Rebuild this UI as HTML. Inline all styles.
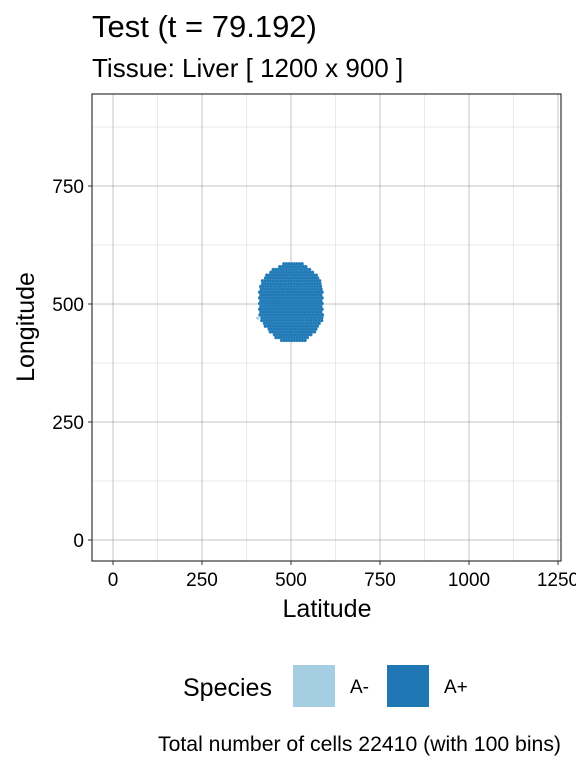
<!DOCTYPE html>
<html><head><meta charset="utf-8"><style>
body{margin:0;background:#fff;font-family:"Liberation Sans",sans-serif}
text{font-family:"Liberation Sans",sans-serif}
</style></head><body>
<svg id="c" width="576" height="768" xmlns="http://www.w3.org/2000/svg">
<text x="92" y="37" font-size="31">Test (t = 79.192)</text>
<text x="92" y="77" font-size="26">Tissue: Liver [ 1200 x 900 ]</text>
<g id="grid"></g>
<g id="pts"></g>
<rect x="92" y="94" width="469" height="467" fill="none" stroke="#222" stroke-width="1.1"/>
<g id="axes"></g>
<text x="327" y="617" font-size="25" text-anchor="middle">Latitude</text>
<text transform="translate(34,327) rotate(-90)" font-size="25" text-anchor="middle">Longitude</text>
<text x="183" y="696" font-size="25">Species</text>
<rect x="293" y="665" width="42" height="42" fill="#a6cee3"/>
<text x="350" y="693" font-size="19">A-</text>
<rect x="387" y="665" width="42" height="42" fill="#1f78b4"/>
<text x="444" y="693" font-size="19">A+</text>
<text x="561" y="751" font-size="21" text-anchor="end" textLength="403" lengthAdjust="spacingAndGlyphs">Total number of cells 22410 (with 100 bins)</text>
</svg>
<script>
const xTicks=[0,250,500,750,1000,1250];
const yTicks=[0,250,500,750];
const rowLon=[585,579,573,567,561,555,549,543,537,531,525,519,513,507,501,495,489,483,477,471,465,459,453,447,441,435,429,423];
const rowMin=[480,465,450,440,432,425,420,417,415,413,412,412,412,412,412,412,412,412,413,415,418,422,428,435,442,450,458,470];
const rowMax=[532,545,557,565,572,578,582,585,587,588,589,590,590,590,590,590,590,589,589,588,588,585,580,575,568,560,552,540];
const minusLat=[407];
const minusLon=[470];
const X=v=>113+v*0.356, Y=v=>540-v*0.472;
const ns="http://www.w3.org/2000/svg";
function mk(t,a,p){const e=document.createElementNS(ns,t);for(const k in a)e.setAttribute(k,a[k]);p.appendChild(e);return e;}
const g=document.getElementById('grid'),ax=document.getElementById('axes'),pts=document.getElementById('pts');
for(let i=0;i<xTicks.length;i++){
  const v=xTicks[i];
  const l=mk('line',{x1:X(v),x2:X(v),y1:94,y2:561,stroke:'#888','stroke-width':0.5},g);
  
  if(i>0){const m=mk('line',{x1:X(v-125),x2:X(v-125),y1:94,y2:561,stroke:'#ccc','stroke-width':0.4},g);
  }
  mk('line',{x1:X(v),x2:X(v),y1:561,y2:565,stroke:'#333'},ax);
  const t=mk('text',{x:X(v),y:586,'font-size':19,'text-anchor':'middle'},ax);t.textContent=v;
  
}
for(let i=0;i<yTicks.length;i++){
  const v=yTicks[i];
  const l=mk('line',{y1:Y(v),y2:Y(v),x1:92,x2:561,stroke:'#888','stroke-width':0.5},g);
  
  const m=mk('line',{y1:Y(v+125),y2:Y(v+125),x1:92,x2:561,stroke:'#ccc','stroke-width':0.4},g);
  
  mk('line',{y1:Y(v),y2:Y(v),x1:88,x2:92,stroke:'#333'},ax);
  const t=mk('text',{x:84,y:Y(v)+7,'font-size':19,'text-anchor':'end'},ax);t.textContent=v;
  
}
for(let r=0;r<rowLon.length;r++){
  const off=(r%2)*3.6;
  for(let x=rowMin[r]+off;x<=rowMax[r];x+=7.3){
    const c=mk('circle',{cx:X(x),cy:Y(rowLon[r]),r:1.6,fill:'#1f78b4',stroke:'#3a8cc4','stroke-width':0.4},pts);
    
  }
}
for(let i=0;i<minusLat.length;i++){
  const c=mk('circle',{cx:X(minusLat[i]),cy:Y(minusLon[i]),r:1.6,fill:'#a6cee3'},pts);
  
}
</script>
</body></html>
